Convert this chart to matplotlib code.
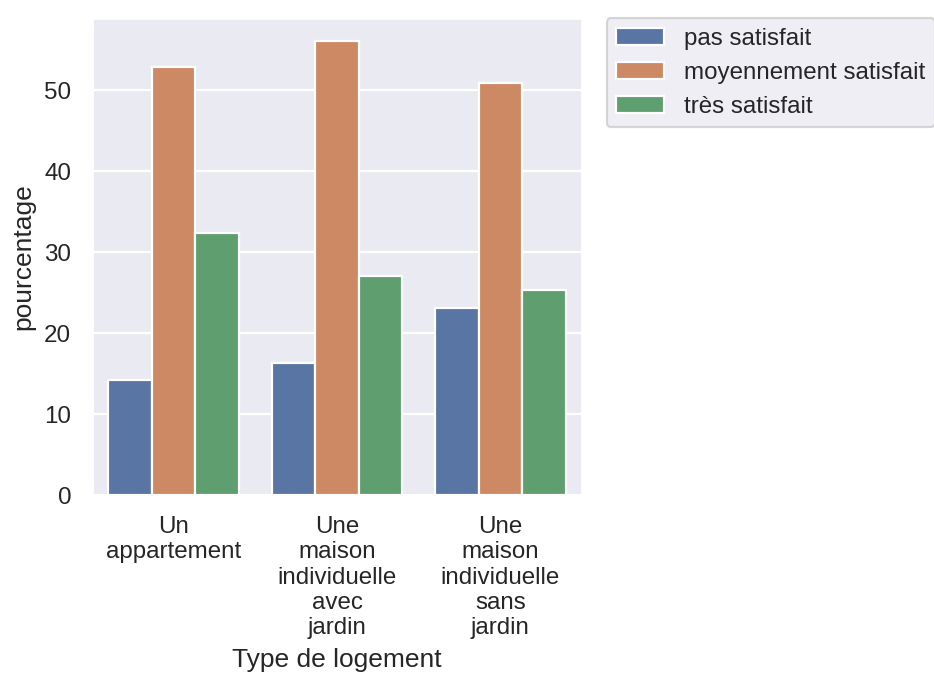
import matplotlib
matplotlib.use("Agg")
import matplotlib.pyplot as plt
import pandas as pd
import seaborn as sns

logements = ["Un\nappartement",
             "Une\nmaison\nindividuelle\navec\njardin",
             "Une\nmaison\nindividuelle\nsans\njardin"]
niveaux = ["pas satisfait", "moyennement satisfait", "très satisfait"]
pas_satisfait = [14.2, 16.3, 23.1]
moyennement = [52.8, 56.1, 50.9]
tres_satisfait = [32.4, 27.0, 25.3]

df = pd.DataFrame({
    "Type de logement": logements * 3,
    "satisfaction": [n for n in niveaux for _ in logements],
    "pourcentage": pas_satisfait + moyennement + tres_satisfait,
})

sns.set_theme()
plt.rcParams['font.family'] = ['Liberation Sans', 'DejaVu Sans']

dpi = 158
fig = plt.figure(figsize=(934 / dpi, 675 / dpi), dpi=dpi)
ax = fig.add_axes([92 / 934, 1 - 495 / 675, 490 / 934, 477 / 675])
sns.barplot(data=df, x="Type de logement", y="pourcentage", hue="satisfaction",
            hue_order=niveaux, ax=ax)

ax.legend(bbox_to_anchor=(1.05, 1), loc="upper left", borderaxespad=0,
          title=None)

fig.savefig("out.png", dpi=dpi)
